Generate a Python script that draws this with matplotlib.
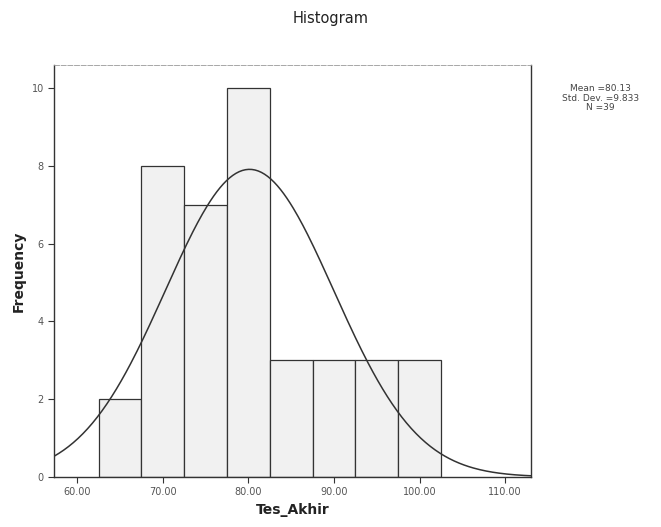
import numpy as np
import matplotlib
matplotlib.use("Agg")
import matplotlib.pyplot as plt

bin_edges = [62.5, 67.5, 72.5, 77.5, 82.5, 87.5, 92.5, 97.5, 102.5]
counts = [2, 8, 7, 10, 3, 3, 3, 3]
mean = 80.13
std_dev = 9.833
n = 39
xticks = [60, 70, 80, 90, 100, 110]
yticks = [0, 2, 4, 6, 8, 10]

fig = plt.figure(figsize=(6.61, 5.27), dpi=100)
ax = fig.add_axes([0.082, 0.095, 0.721, 0.782])

widths = np.diff(bin_edges)
ax.bar(bin_edges[:-1], counts, width=widths, align='edge',
       color='#f1f1f1', edgecolor='#333333', linewidth=0.9, zorder=2)

# Curva normal con la media y desviacion
xs = np.linspace(57.3, 113.0, 300)
bw = widths[0]
ys = n * bw / (std_dev * np.sqrt(2 * np.pi)) * np.exp(-0.5 * ((xs - mean) / std_dev) ** 2)
ax.plot(xs, ys, color='#333333', linewidth=1.1, zorder=3)

ax.set_xlim(57.3, 113.0)
ax.set_ylim(0, 10.6)
ax.set_xticks(xticks)
ax.set_xticklabels([f"{v:.2f}" for v in xticks])
ax.set_yticks(yticks)
ax.tick_params(axis='both', labelsize=7, colors='#333333', length=4, width=0.8,
               labelcolor='#555555')

for side in ['left', 'bottom', 'right']:
    ax.spines[side].set_color('#333333')
    ax.spines[side].set_linewidth(1.0)
ax.spines['top'].set_color('#999999')
ax.spines['top'].set_linewidth(0.6)
ax.spines['top'].set_linestyle((0, (6, 2)))

ax.set_xlabel('Tes_Akhir', fontsize=10, fontweight='bold', color='#222222')
ax.set_ylabel('Frequency', fontsize=10, fontweight='bold', color='#222222')

fig.text(0.5, 0.965, 'Histogram', ha='center', va='center', fontsize=10.5, color='#222222')
fig.text(0.908, 0.84, f"Mean ={mean:.2f}\nStd. Dev. ={std_dev:.3f}\nN ={n}",
         ha='center', va='top', fontsize=6.5, color='#444444', linespacing=1.05)

fig.savefig('out.png', dpi=100)
